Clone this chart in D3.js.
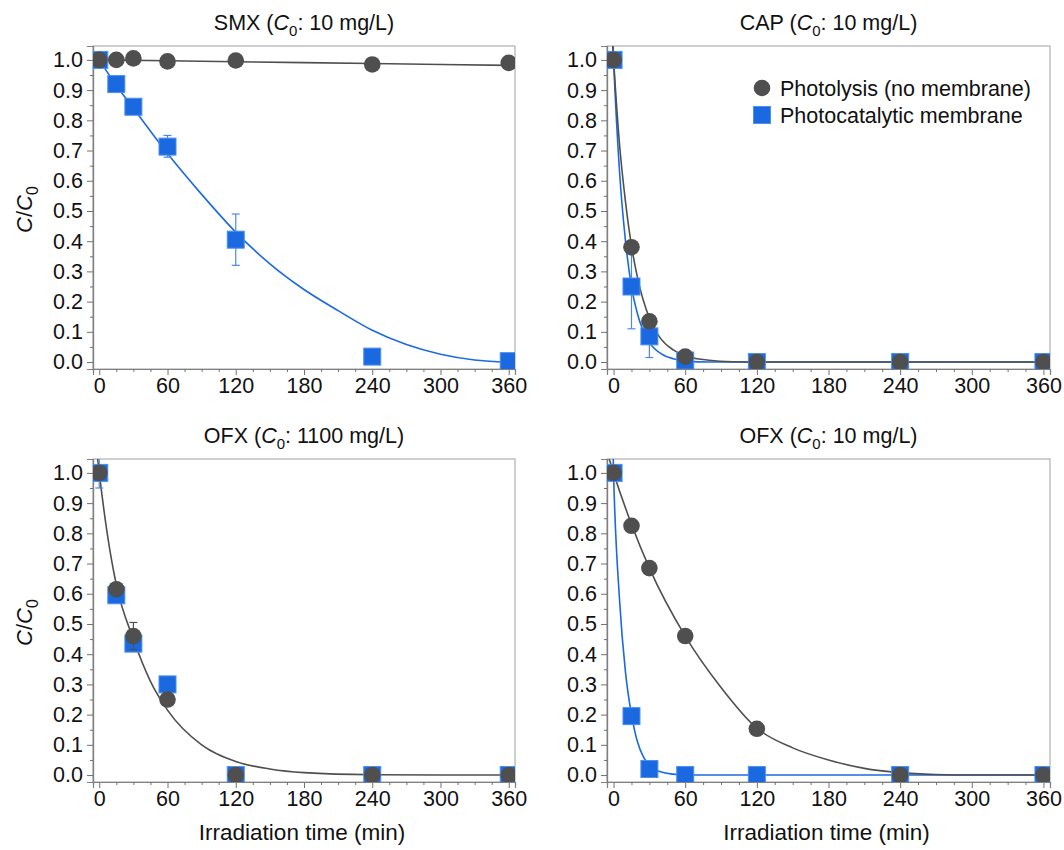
<!DOCTYPE html>
<html>
<head>
<meta charset="utf-8">
<script src="https://cdn.jsdelivr.net/npm/d3@7/dist/d3.min.js"></script>
<style>
  html, body { margin: 0; padding: 0; background: #fff; }
  svg { display: block; font-family: "Liberation Sans", Arial, sans-serif; }
</style>
</head>
<body>
<svg id="chart" width="1064" height="850"></svg>
<script>
// ---------- data ----------
const times = [0, 15, 30, 60, 120, 240, 360];
const xTicks = [0, 60, 120, 180, 240, 300, 360];
const yTicks = [0, 0.1, 0.2, 0.3, 0.4, 0.5, 0.6, 0.7, 0.8, 0.9, 1.0];
const compounds = ["SMX", "CAP", "OFX", "OFX"];
const concentrations = ["10 mg/L", "10 mg/L", "1100 mg/L", "10 mg/L"];
const seriesNames = ["Photolysis (no membrane)", "Photocatalytic membrane"];

// measured points (C/C0)
const photolysisSMX = [1.0, 1.0, 1.005, 0.995, 0.998, 0.985, 0.99];
const photocatSMX   = [1.0, 0.92, 0.845, 0.713, 0.405, 0.018, 0.003];
const photolysisCAP = [1.0, 0.38, 0.135, 0.018, 0.0, 0.0, 0.0];
const photocatCAP   = [1.0, 0.25, 0.085, 0.005, 0.0, 0.0, 0.0];
const photolysisOFX1100 = [1.0, 0.615, 0.46, 0.25, 0.0, 0.0, 0.0];
const photocatOFX1100   = [1.0, 0.595, 0.435, 0.30, 0.0, 0.0, 0.0];
const photolysisOFX10 = [1.0, 0.825, 0.685, 0.46, 0.153, 0.0, 0.0];
const photocatOFX10   = [1.0, 0.195, 0.02, 0.0, 0.0, 0.0, 0.0];

// error bars [time, low, high]
const errPhotolysisSMX = [];
const errPhotocatSMX = [[60, 0.678, 0.75], [120, 0.32, 0.49]];
const errPhotolysisCAP = [];
const errPhotocatCAP = [[15, 0.11, 0.39], [30, 0.015, 0.155]];
const errPhotolysisOFX1100 = [[15, 0.6, 0.63], [30, 0.415, 0.505]];
const errPhotocatOFX1100 = [[0, 0.95, 1.05]];
const errPhotolysisOFX10 = [];
const errPhotocatOFX10 = [];

// fitted curves: [time, C/C0]
const fitPhotolysisSMX = [[0, 1.0], [120, 0.994], [240, 0.988], [360, 0.982]];
const fitPhotocatSMX = [[0, 1.0], [15, 0.915], [30, 0.84], [60, 0.69], [90, 0.555], [120, 0.43],
  [150, 0.325], [180, 0.24], [210, 0.17], [240, 0.105], [270, 0.058], [300, 0.026], [330, 0.007], [350, 0.001], [360, 0.0]];
const fitPhotolysisCAP = [[-3, 1.2], [0, 1.0], [5, 0.72], [10, 0.53], [15, 0.385], [20, 0.28], [30, 0.145],
  [40, 0.075], [50, 0.04], [60, 0.02], [80, 0.006], [100, 0.001], [120, 0.0], [360, 0.0]];
const fitPhotocatCAP = [[-2, 1.2], [0, 1.0], [5, 0.63], [10, 0.4], [15, 0.25], [20, 0.16], [30, 0.065],
  [40, 0.027], [50, 0.011], [60, 0.004], [80, 0.0], [360, 0.0]];
const fitPhotolysisOFX1100 = [[-3, 1.1], [0, 1.0], [7, 0.8], [15, 0.63], [30, 0.45], [45, 0.31], [60, 0.215],
  [90, 0.1], [120, 0.045], [150, 0.02], [180, 0.008], [240, 0.001], [300, 0.0], [360, 0.0]];
const fitPhotocatOFX1100 = [];
const fitPhotolysisOFX10 = [[-5.5, 1.07], [0, 1.0], [15, 0.83], [30, 0.685], [60, 0.46], [90, 0.29], [120, 0.155],
  [150, 0.09], [180, 0.05], [210, 0.022], [240, 0.008], [270, 0.002], [300, 0.0], [360, 0.0]];
const fitPhotocatOFX10 = [[-1.2, 1.2], [0, 1.0], [5, 0.58], [10, 0.34], [15, 0.2], [20, 0.11], [25, 0.06],
  [30, 0.032], [40, 0.01], [50, 0.003], [60, 0.0], [360, 0.0]];

// ---------- build panels ----------
const panelsData = [
  { photolysis: photolysisSMX, photocat: photocatSMX, errA: errPhotolysisSMX, errB: errPhotocatSMX, fitA: fitPhotolysisSMX, fitB: fitPhotocatSMX },
  { photolysis: photolysisCAP, photocat: photocatCAP, errA: errPhotolysisCAP, errB: errPhotocatCAP, fitA: fitPhotolysisCAP, fitB: fitPhotocatCAP },
  { photolysis: photolysisOFX1100, photocat: photocatOFX1100, errA: errPhotolysisOFX1100, errB: errPhotocatOFX1100, fitA: fitPhotolysisOFX1100, fitB: fitPhotocatOFX1100 },
  { photolysis: photolysisOFX10, photocat: photocatOFX10, errA: errPhotolysisOFX10, errB: errPhotocatOFX10, fitA: fitPhotolysisOFX10, fitB: fitPhotocatOFX10 }
];
const layout = [
  { x0: 93, x1: 515, y0: 46, y1: 369 },
  { x0: 607, x1: 1050, y0: 46, y1: 369 },
  { x0: 93, x1: 515, y0: 459, y1: 782 },
  { x0: 607, x1: 1050, y0: 459, y1: 782 }
];

const GRAY = "#4f4f4f";
const BLUE = "#1b69e0";
const BLUE_ERR = "#4a8ae6";
const svg = d3.select("#chart");
const FONT = 21.5;

function titleText(sel, name, conc) {
  sel.append("tspan").text(name + " (");
  sel.append("tspan").attr("font-style", "italic").text("C");
  sel.append("tspan").attr("dy", 6).attr("font-size", 15).text("0");
  sel.append("tspan").attr("dy", -6).text(": " + conc + ")");
}

panelsData.forEach((p, i) => {
  const L = layout[i];
  const x = d3.scaleLinear().domain([-5.5, 365.5]).range([L.x0, L.x1]);
  const y = d3.scaleLinear().domain([-0.023, 1.046]).range([L.y1, L.y0]);
  const g = svg.append("g");

  // frame (top & right)
  g.append("rect").attr("x", L.x0).attr("y", L.y0).attr("width", L.x1 - L.x0).attr("height", L.y1 - L.y0)
    .attr("fill", "none").attr("stroke", "#a0a0a0").attr("stroke-width", 1);

  // axes
  const xAxis = d3.axisBottom(x).tickValues(xTicks).tickSize(6).tickPadding(3).tickFormat(d3.format("d"));
  const xMinor = d3.axisBottom(x).tickValues(d3.range(0, 361, 15).filter(v => v % 60 !== 0)).tickSize(3).tickFormat("");
  const yAxis = d3.axisLeft(y).tickValues(yTicks).tickSize(6).tickPadding(4).tickFormat(d3.format(".1f"));
  const yMinor = d3.axisLeft(y).tickValues(d3.range(0.05, 1.0, 0.1)).tickSize(3).tickFormat("");

  const gx = g.append("g").attr("transform", `translate(0,${L.y1})`).call(xAxis);
  g.append("g").attr("transform", `translate(0,${L.y1})`).call(xMinor);
  const gy = g.append("g").attr("transform", `translate(${L.x0},0)`).call(yAxis);
  g.append("g").attr("transform", `translate(${L.x0},0)`).call(yMinor);
  g.selectAll(".domain").attr("stroke", "#808080").attr("stroke-width", 1.2);
  g.selectAll(".tick line").attr("stroke", "#707070");
  gx.attr("font-size", FONT).attr("font-family", "Liberation Sans, Arial, sans-serif");
  gy.attr("font-size", FONT).attr("font-family", "Liberation Sans, Arial, sans-serif");
  gx.selectAll("text").attr("font-size", FONT).attr("fill", "#111");
  gy.selectAll("text").attr("font-size", FONT).attr("fill", "#111");

  // clip
  const clipId = "clip" + i;
  svg.append("clipPath").attr("id", clipId).append("rect")
    .attr("x", L.x0).attr("y", L.y0).attr("width", L.x1 - L.x0).attr("height", L.y1 - L.y0);

  const line = d3.line().x(d => x(d[0])).y(d => y(d[1])).curve(d3.curveMonotoneX);
  const plot = g.append("g").attr("clip-path", `url(#${clipId})`);

  if (p.fitB.length) plot.append("path").attr("d", line(p.fitB)).attr("fill", "none").attr("stroke", BLUE).attr("stroke-width", 1.6);
  if (p.fitA.length) plot.append("path").attr("d", line(p.fitA)).attr("fill", "none").attr("stroke", GRAY).attr("stroke-width", 1.6);

  function errBars(errs, color) {
    errs.forEach(e => {
      const cx = x(e[0]);
      plot.append("line").attr("x1", cx).attr("x2", cx).attr("y1", y(e[1])).attr("y2", y(e[2])).attr("stroke", color).attr("stroke-width", 1.2);
      [e[1], e[2]].forEach(v => plot.append("line").attr("x1", cx - 4).attr("x2", cx + 4).attr("y1", y(v)).attr("y2", y(v)).attr("stroke", color).attr("stroke-width", 1.2));
    });
  }
  errBars(p.errB, BLUE_ERR);

  // squares
  const sq = 17;
  plot.selectAll("rect.sq").data(times.map((t, k) => [t, p.photocat[k]])).join("rect")
    .attr("class", "sq")
    .attr("x", d => x(d[0]) - sq / 2).attr("y", d => y(d[1]) - sq / 2)
    .attr("width", sq).attr("height", sq)
    .attr("fill", BLUE).attr("stroke", "#4b8fef").attr("stroke-width", 1);

  errBars(p.errA, GRAY);
  // circles
  plot.selectAll("circle.ci").data(times.map((t, k) => [t, p.photolysis[k]])).join("circle")
    .attr("class", "ci")
    .attr("cx", d => x(d[0])).attr("cy", d => y(d[1])).attr("r", 8.3)
    .attr("fill", GRAY);

  // title
  const t = g.append("text").attr("x", (L.x0 + L.x1) / 2).attr("y", L.y0 - 16)
    .attr("text-anchor", "middle").attr("font-size", 21.5).attr("fill", "#111");
  titleText(t, compounds[i], concentrations[i]);

  // y label
  if (i % 2 === 0) {
    const yl = g.append("text").attr("transform", `translate(32,${(L.y0 + L.y1) / 2 + 2}) rotate(-90)`)
      .attr("text-anchor", "middle").attr("font-size", 22).attr("fill", "#111");
    yl.append("tspan").attr("font-style", "italic").text("C");
    yl.append("tspan").text("/");
    yl.append("tspan").attr("font-style", "italic").text("C");
    yl.append("tspan").attr("dy", 6).attr("font-size", 16).text("0");
  }
  // x label
  if (i >= 2) {
    g.append("text").attr("x", (L.x0 + L.x1) / 2 - 2).attr("y", L.y1 + 58)
      .attr("text-anchor", "middle").attr("font-size", 22.5).attr("fill", "#111")
      .text("Irradiation time (min)");
  }

  // legend
  if (i === 1) {
    const lg = g.append("g");
    lg.append("circle").attr("cx", 762).attr("cy", 88).attr("r", 8.3).attr("fill", GRAY);
    lg.append("rect").attr("x", 762 - sq / 2).attr("y", 115 - sq / 2).attr("width", sq).attr("height", sq)
      .attr("fill", BLUE).attr("stroke", "#4b8fef");
    lg.append("text").attr("x", 780).attr("y", 88).attr("dy", "0.35em").attr("font-size", 21.5).attr("fill", "#111").text(seriesNames[0]);
    lg.append("text").attr("x", 780).attr("y", 115).attr("dy", "0.35em").attr("font-size", 21.5).attr("fill", "#111").text(seriesNames[1]);
  }
});
</script>
</body>
</html>
